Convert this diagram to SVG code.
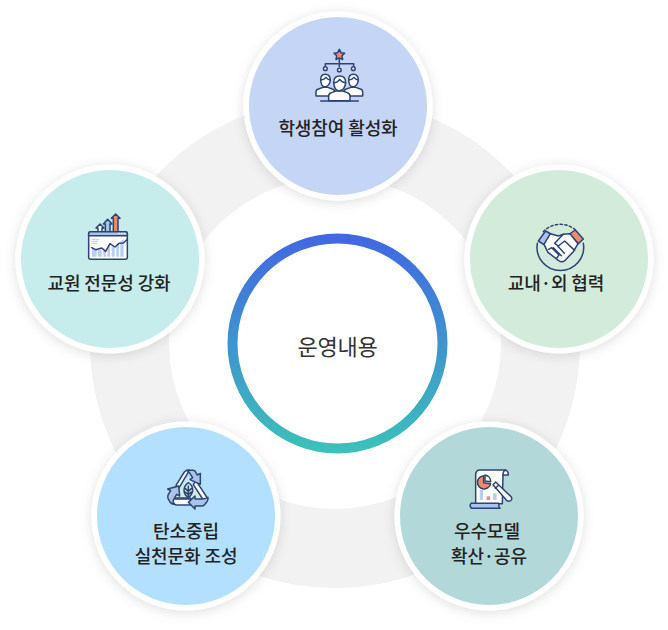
<svg xmlns="http://www.w3.org/2000/svg" width="668" height="630" viewBox="0 0 668 630">
<defs>
<linearGradient id="rg" x1="0" y1="0" x2="0" y2="1"><stop offset="0" stop-color="#4169e1"/><stop offset="1" stop-color="#3cc0bb"/></linearGradient>
<filter id="sh" x="-25%" y="-25%" width="150%" height="150%"><feDropShadow dx="0" dy="2" stdDeviation="6" flood-color="#000" flood-opacity="0.13"/></filter>
</defs>
<style>
text{font-family:"Noto Sans CJK KR","Noto Sans",sans-serif;font-size:18px;fill:#222;text-anchor:middle;font-weight:500;letter-spacing:-0.1px}
.o{fill:#fff;filter:url(#sh)}
.i,.w,.b,.r,.l{stroke:#2b4474;stroke-width:4.500;stroke-linejoin:round;stroke-linecap:round}
.i{fill:none}.w{fill:#fff}.b{fill:#a9c3ea}.r{fill:#f08a6c}.l{fill:#b7cff0;stroke:none}
</style>
<g id="connectors"><circle cx="335" cy="343" r="205.500" fill="none" stroke="#f2f2f2" stroke-width="79"/></g>
<g id="center"><circle cx="337.500" cy="343.500" r="105" fill="#fff" stroke="url(#rg)" stroke-width="10"/><text x="337.500" y="355" style="font-size:22px;font-weight:400;letter-spacing:-.3px;fill:#333">운영내용</text></g>
<g id="n1"><circle class="o" cx="338" cy="106" r="94.500"/><circle cx="338" cy="106" r="89" fill="#c5d5f5"/>
<g transform="translate(290 30) scale(.33333)">
<path class="r" d="M148 58l5 10 11 1.500-8 8 2 11-10-5-10 5 2-11-8-8 11-1.500z"/>
<path class="i" d="M148 88v22M106 110v-9h85v9"/>
<circle class="w" cx="106" cy="116" r="5.500"/><circle class="w" cx="148" cy="120" r="5.500"/><circle class="w" cx="190" cy="116" r="5.500"/>
<path class="w" d="M78 198v-12q0-7 7-9l14-5h14l14 5q7 2 7 9v12z"/>
<path class="w" d="M162 198v-12q0-7 7-9l14-5h14l14 5q7 2 7 9v12z"/>
<path class="w" d="M92 150q0-17 14-17t15 17q-2 18-15 20t-14-20z"/>
<path class="w" d="M176 150q0-17 14-17t15 17q-2 18-15 20t-14-20z"/>
<path class="i" d="M92 150q10 0 16-8 4 6 12 8M176 150q10 0 16-8 4 6 12 8"/>
<path class="w" d="M116 212v-14q0-8 8-10l14-5h20l14 5q8 2 8 10v14z"/>
<path class="w" d="M131 158q0-20 18-20t18 20q-2 22-18 24t-18-24z"/>
<path class="i" d="M131 158q12 0 18-10 5 8 18 10M92 213h113"/>
</g>
<text x="338" y="135">학생참여 활성화</text></g>
<g id="n2"><circle class="o" cx="559" cy="259" r="94.500"/><circle cx="559" cy="259" r="89" fill="#d3ebda"/>
<g transform="translate(520 210) scale(.33333)">
<path class="i" d="M70 65a70 70 0 0 1 100 -2" stroke-dasharray="7 7"/>
<path class="i" d="M52 100a70 70 0 1 0 138 0"/>
<path class="b" d="M55 93l22-30 16 9-21 32z"/><path class="r" d="M148 72l18-12 24 27-15 14z"/>
<path class="w" d="M72 103l19-32 24 7 15-5 20-2 24 30-14 24-26 27q-8 7-18 0l-32-25z"/>
<path class="i" d="M130 73l-26 27 11 8 19-15 30 28M86 118l9-5 22 22-8 11M100 113l24 24M113 108l20 22"/>
</g>
<text x="556" y="290">교내·외 협력</text></g>
<g id="n3"><circle class="o" cx="489" cy="516" r="94.500"/><circle cx="489" cy="516" r="89" fill="#b3d8da"/>
<g transform="translate(455 460) scale(.33333)">
<path class="w" d="M75 30h75q10 2 10 15h-16l-2 86H62V45q0-15 13-15z"/>
<path class="i" d="M144 45q0-12 8-15"/>
<path class="b" d="M48 130h84q-3 8 3 15H50q-8-7-2-15z"/>
<path class="r" d="M86 47a20 20 0 1 0 21 24l-21-3z" stroke-width="3"/>
<path class="w" d="M90 45a20 20 0 0 1 17 20l-17-2z" stroke-width="3"/>
<path class="l" d="M74 90h10v30H74zM114 100h11v20h-11z"/><path d="M95 109h10v11H95z" fill="#f08a6c"/>
<path class="w" d="M114 74l8-8 46 44q5 8-1 12-6 3-11 0z"/>
<path class="i" d="M121 85l8-8"/>
</g>
<text x="487" y="538">우수모델</text><text x="489" y="563">확산·공유</text></g>
<g id="n4"><circle class="o" cx="186" cy="516" r="94.500"/><circle cx="186" cy="516" r="89" fill="#b4e0ff"/>
<g transform="translate(150 460) scale(.33333)">
<path d="M115 50l42 66H72z" fill="#d3ebe8"/>
<path class="w" d="M78 76l25-40q5-6 15-5l-32 54z"/>
<path class="w" d="M138 62l34 52-12 6-30-46z"/>
<path class="w" d="M68 118l8-4h45v21H78q-8-3-10-17z"/>
<path class="b" d="M110 31h20q6 1 9 9l3 5 9-5v33l-31-14 8-6-10-15q-3-5-8-7z"/>
<path class="b" d="M174 112q1 7-4 14l-6 8q-4 4-10 4h-19v9l-20-20 20-19v9h22q8 0 17-5z"/>
<path class="b" d="M86 78l3 30-9-5-9 15q-3 5-1 11l3 4h-2q-8-2-11-7l-6-11q-2-6 1-12l7-11-9-5z"/>
<path class="i" d="M75 117h47"/>
<path class="i" d="M115 68q14 8 13 24-2 14-13 20-12-6-13-20 0-15 13-24zM115 78v34M106 86l9 8 9-8M106 96l9 8 9-8"/>
</g>
<text x="186" y="538">탄소중립</text><text x="186" y="563">실천문화 조성</text></g>
<g id="n5"><circle class="o" cx="110" cy="259" r="94.500"/><circle cx="110" cy="259" r="89" fill="#c6ecec"/>
<g transform="translate(70 200) scale(.33333)">
<path class="w" d="M78 84l12-12 12 12h-6v12H84V84z"/>
<path class="b" d="M100 72l13-14 13 14h-6v25h-14V72z"/>
<path class="r" d="M124 55l13-13 13 13h-6v42h-14V55z"/>
<rect class="w" x="56" y="95" width="116" height="83" rx="6"/>
<path class="b" d="M56 107v-6q0-6 6-6h104q6 0 6 6v6z"/>
<path d="M145 100h5M153 100h5M161 100h5" stroke="#fff" stroke-width="3"/>
<path class="l" d="M66 145l14 4v21H66zM84 149h11v21H84zM100 145l8 6v19h-8zM112 148l8-16v38h-8zM125 136l9 5v29h-9zM139 135l8-6v41h-8zM151 124l10-6v52h-10z"/>
<path class="i" d="M65 143l12 6 18-5 12 10 13-23 15 10 12-11 13-1 12-11"/>
<path d="M64 118h24M64 124h20M64 130h18" stroke="#a9c3ea" stroke-width="2.500"/>
</g>
<text x="109" y="290">교원 전문성 강화</text></g>
</svg>
